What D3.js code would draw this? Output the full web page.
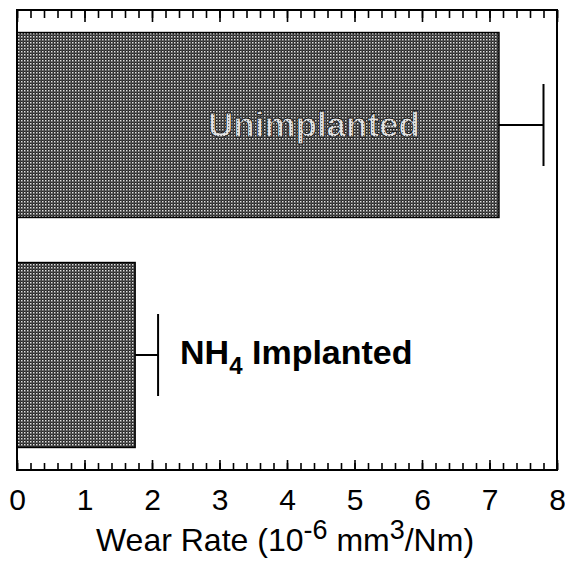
<!DOCTYPE html>
<html>
<head>
<meta charset="utf-8">
<script src="https://cdn.jsdelivr.net/npm/d3@7"></script>
<style>
  body { margin: 0; background: #fff; }
  svg { display: block; font-family: "Liberation Sans", Arial, sans-serif; }
</style>
</head>
<body>
<svg id="chart" width="565" height="566"></svg>
<script>
// values
const categories = ['Unimplanted', 'NH4 Implanted'];
const wearRate = [7.14, 1.75];
const wearError = [0.66, 0.34];
const tickValues = [0, 1, 2, 3, 4, 5, 6, 7, 8];

const svg = d3.select('#chart');
const plotLeft = 17, plotRight = 557, plotTop = 10, plotBottom = 470;

const x = d3.scaleLinear().domain([0, 8]).range([plotLeft, plotRight]);
const y = d3.scaleBand().domain(categories).range([plotTop, plotBottom])
  .paddingInner(0.196).paddingOuter(0.098);

// dithered fill like the scanned bars
const defs = svg.append('defs');
const pat = defs.append('pattern').attr('id', 'dots')
  .attr('width', 3).attr('height', 3).attr('patternUnits', 'userSpaceOnUse');
pat.append('rect').attr('width', 3).attr('height', 3).attr('fill', '#262626');
pat.append('rect').attr('x', 0).attr('y', 0).attr('width', 1.5).attr('height', 1.5).attr('fill', '#e0e0e0');
pat.append('rect').attr('x', 1.5).attr('y', 1.5).attr('width', 1).attr('height', 1).attr('fill', '#8a8a8a');

const patLight = defs.append('pattern').attr('id', 'lightdots')
  .attr('width', 3).attr('height', 3).attr('patternUnits', 'userSpaceOnUse');
patLight.append('rect').attr('width', 3).attr('height', 3).attr('fill', '#e4e4e4');
patLight.append('rect').attr('x', 0).attr('y', 0).attr('width', 1.2).attr('height', 1.2).attr('fill', '#666');

// bars
svg.selectAll('rect.bar')
  .data(categories)
  .enter()
  .append('rect')
  .attr('class', 'bar')
  .attr('x', x(0))
  .attr('y', (d) => y(d))
  .attr('width', (d, i) => x(wearRate[i]) - x(0))
  .attr('height', y.bandwidth())
  .attr('fill', 'url(#dots)')
  .attr('stroke', '#000')
  .attr('stroke-width', 1.5);

// error bars
const err = svg.selectAll('g.err')
  .data(categories)
  .enter()
  .append('g')
  .attr('class', 'err')
  .attr('stroke', '#000')
  .attr('stroke-width', 2);

err.append('line')
  .attr('x1', (d, i) => x(wearRate[i]))
  .attr('x2', (d, i) => x(wearRate[i] + wearError[i]))
  .attr('y1', (d) => y(d) + y.bandwidth() / 2)
  .attr('y2', (d) => y(d) + y.bandwidth() / 2);

err.append('line')
  .attr('x1', (d, i) => x(wearRate[i] + wearError[i]))
  .attr('x2', (d, i) => x(wearRate[i] + wearError[i]))
  .attr('y1', (d) => y(d) + y.bandwidth() / 2 - 41)
  .attr('y2', (d) => y(d) + y.bandwidth() / 2 + 41);

// bar labels
svg.append('text')
  .attr('x', x(4.4))
  .attr('y', y('Unimplanted') + y.bandwidth() / 2 + 12)
  .attr('text-anchor', 'middle')
  .attr('font-size', 35)
  .attr('font-weight', 'bold')
  .attr('fill', 'url(#lightdots)')
  .attr('stroke', '#111')
  .attr('stroke-width', 0.8)
  .text('Unimplanted');

const nh = svg.append('text')
  .attr('x', x(wearRate[1] + wearError[1]) + 22)
  .attr('y', y('NH4 Implanted') + y.bandwidth() / 2 + 9)
  .attr('font-size', 34)
  .attr('font-weight', 'bold')
  .attr('fill', '#000');
nh.append('tspan').text('NH');
nh.append('tspan').attr('font-size', 24).attr('dy', 10).text('4');
nh.append('tspan').attr('dy', -10).text(' Implanted');

// axes: major + minor ticks pointing inward on top and bottom
const minorTicks = d3.range(0, 8.001, 0.2);

svg.append('g')
  .attr('transform', `translate(0,${plotBottom})`)
  .call(d3.axisBottom(x).tickValues(minorTicks).tickSize(-7).tickFormat(''))
  .call((g) => g.select('.domain').remove());

svg.append('g')
  .attr('transform', `translate(0,${plotBottom})`)
  .call(d3.axisBottom(x).tickValues(tickValues).tickSize(-10).tickPadding(19).tickFormat(d3.format('d')))
  .call((g) => g.select('.domain').remove())
  .call((g) => g.selectAll('text').attr('font-size', 30).attr('fill', '#000')
    .attr('font-family', '"Liberation Sans", Arial, sans-serif'));

svg.append('g')
  .attr('transform', `translate(0,${plotTop})`)
  .call(d3.axisTop(x).tickValues(minorTicks).tickSize(-8).tickFormat(''))
  .call((g) => g.select('.domain').remove());

svg.append('g')
  .attr('transform', `translate(0,${plotTop})`)
  .call(d3.axisTop(x).tickValues(tickValues).tickSize(-12).tickFormat(''))
  .call((g) => g.select('.domain').remove());

svg.selectAll('.tick line').attr('stroke', '#000').attr('stroke-width', 1.6);

// frame
svg.append('rect')
  .attr('x', plotLeft).attr('y', plotTop)
  .attr('width', plotRight - plotLeft).attr('height', plotBottom - plotTop)
  .attr('fill', 'none')
  .attr('stroke', '#000')
  .attr('stroke-width', 2);

// axis title
const title = svg.append('text')
  .attr('x', (plotLeft + plotRight) / 2 - 2)
  .attr('y', 551)
  .attr('text-anchor', 'middle')
  .attr('font-size', 32)
  .attr('fill', '#000');
title.append('tspan').text('Wear Rate (10');
title.append('tspan').attr('font-size', 27).attr('dy', -12).text('-6');
title.append('tspan').attr('dy', 12).text(' mm');
title.append('tspan').attr('font-size', 27).attr('dy', -12).text('3');
title.append('tspan').attr('dy', 12).text('/Nm)');
</script>
</body>
</html>
